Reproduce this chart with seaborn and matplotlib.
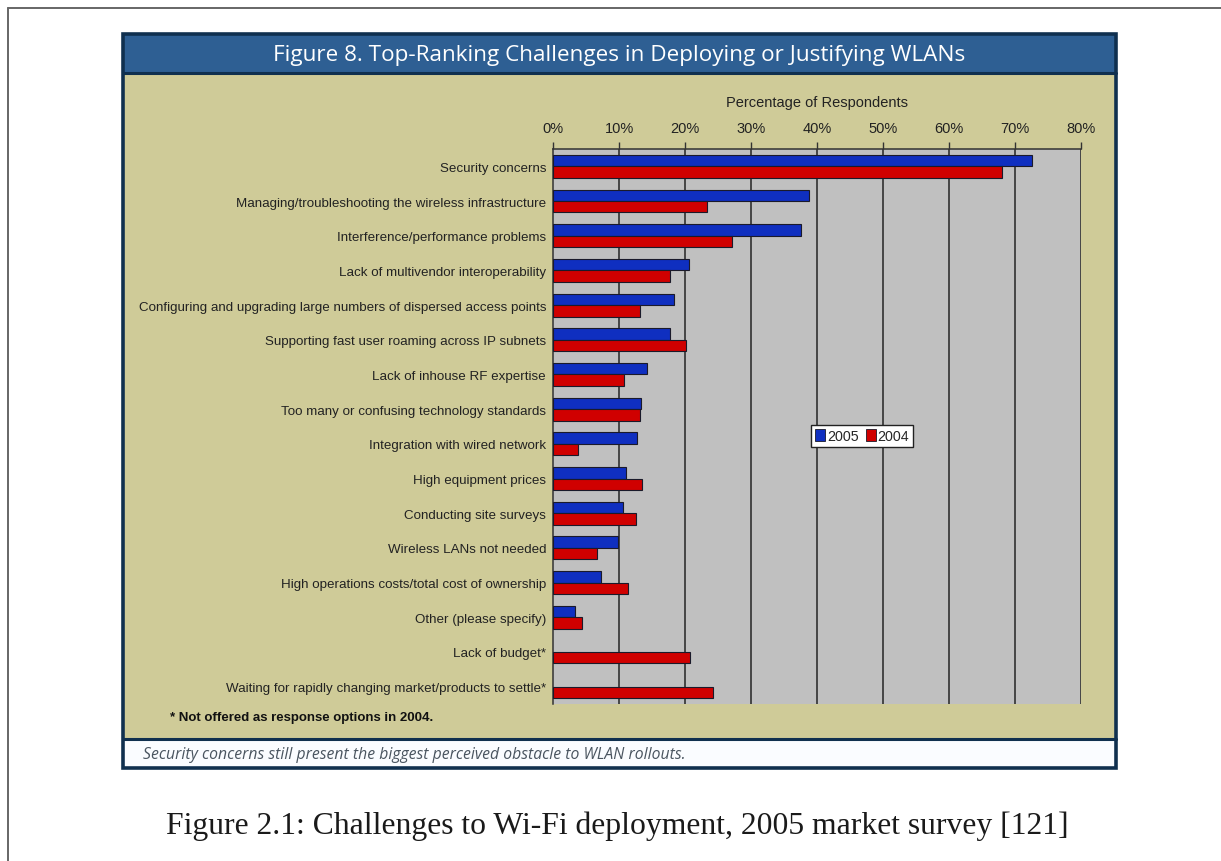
import numpy as np
import pandas as pd
import matplotlib
matplotlib.use("Agg")
import matplotlib.pyplot as plt
from matplotlib.patches import Rectangle, Patch
from matplotlib.lines import Line2D
import seaborn as sns

# ---- data -------------------------------------------------------------
challenges = [
    "Security concerns",
    "Managing/troubleshooting the wireless infrastructure",
    "Interference/performance problems",
    "Lack of multivendor interoperability",
    "Configuring and upgrading large numbers of dispersed access points",
    "Supporting fast user roaming across IP subnets",
    "Lack of inhouse RF expertise",
    "Too many or confusing technology standards",
    "Integration with wired network",
    "High equipment prices",
    "Conducting site surveys",
    "Wireless LANs not needed",
    "High operations costs/total cost of ownership",
    "Other (please specify)",
    "Lack of budget*",
    "Waiting for rapidly changing market/products to settle*",
]
pct_2005 = [72.6, 38.8, 37.5, 20.6, 18.4, 17.8, 14.3, 13.4, 12.7, 11.1, 10.6, 9.8, 7.2, 3.4,
            np.nan, np.nan]
pct_2004 = [68.0, 23.4, 27.1, 17.8, 13.2, 20.2, 10.8, 13.2, 3.8, 13.5, 12.5, 6.6, 11.3, 4.4,
            20.8, 24.3]
years = ["2005", "2004"]
x_ticks = [0, 10, 20, 30, 40, 50, 60, 70, 80]

title = "Figure 8. Top-Ranking Challenges in Deploying or Justifying WLANs"
axis_title = "Percentage of Respondents"
footnote = "* Not offered as response options in 2004."
takeaway = "Security concerns still present the biggest perceived obstacle to WLAN rollouts."
caption = "Figure 2.1: Challenges to Wi-Fi deployment, 2005 market survey [121]"

df = pd.DataFrame({
    "challenge": challenges * 2,
    "year": ["2005"] * len(challenges) + ["2004"] * len(challenges),
    "pct": pct_2005 + pct_2004,
})

# ---- style ------------------------------------------------------------
sns.set_style("white")
plt.rcParams["font.family"] = ["Liberation Sans", "DejaVu Sans"]

BLUE = "#0f2fc0"
RED = "#d00000"
TAN = "#cfcb98"
PLOT_GRAY = "#c0c0c0"
HEAD_BLUE = "#2e5f93"
NAVY = "#10304f"

W, H = 1221, 862
fig = plt.figure(figsize=(W / 100, H / 100), dpi=100)
fig.patch.set_facecolor("white")

# background layer in pixel coordinates
bg = fig.add_axes([0, 0, 1, 1], zorder=0)
bg.set_xlim(0, W)
bg.set_ylim(H, 0)
bg.axis("off")

# page frame
bg.add_line(Line2D([8, W], [9, 9], color="#666666", lw=1.4))
bg.add_line(Line2D([8, 8], [9, H], color="#666666", lw=1.4))

# exhibit box
bg.add_patch(Rectangle((123, 35), 993, 39, facecolor=HEAD_BLUE, edgecolor="none"))
bg.add_patch(Rectangle((123, 74), 993, 666, facecolor=TAN, edgecolor="none"))
bg.add_patch(Rectangle((123, 740), 993, 29, facecolor="#fafcff", edgecolor="none"))
bg.add_line(Line2D([123, 1116], [74, 74], color=NAVY, lw=2.2))
bg.add_line(Line2D([123, 1116], [740, 740], color=NAVY, lw=2.2))
bg.add_patch(Rectangle((123, 35), 993, 734, facecolor="none", edgecolor=NAVY, lw=2.6))

bg.text(619.5, 55, title, color="white", fontsize=16.2, ha="center", va="center",
        family=["Open Sans", "DejaVu Sans"])
bg.text(170, 718, footnote, color="#111111", fontsize=9.5, fontweight="bold",
        ha="left", va="center", family=["Liberation Sans", "DejaVu Sans"])
bg.text(143, 755, takeaway, color="#4a5560", fontsize=11.3, style="italic",
        ha="left", va="center", family=["Open Sans", "DejaVu Sans"])
bg.text(617, 826, caption, color="#1a1a1a", fontsize=22.8, ha="center", va="center",
        family=["Liberation Serif", "DejaVu Serif"])

# ---- bar chart ----------------------------------------------------------
left, right, top, bottom = 553, 1081, 150, 705
ax = fig.add_axes([left / W, 1 - bottom / H, (right - left) / W, (bottom - top) / H], zorder=1)
ax.set_facecolor(PLOT_GRAY)

sns.barplot(data=df, x="pct", y="challenge", hue="year", hue_order=years,
            palette=[BLUE, RED], saturation=1, orient="h", width=0.66,
            edgecolor="#1a1a2a", linewidth=0.8, ax=ax, legend=False, zorder=3)

ax.set_xlim(0, 80)
ax.set_ylim(len(challenges) - 0.5, -0.5)
ax.xaxis.tick_top()
ax.xaxis.set_label_position("top")
ax.set_xticks(x_ticks)
ax.set_xticklabels([f"{v}%" for v in x_ticks], fontsize=10.5, color="#222222")
ax.set_xlabel(axis_title, fontsize=10.5, color="#222222", labelpad=11)
ax.set_ylabel("")
ax.tick_params(axis="x", direction="out", length=5, width=1, color="#333333", pad=5, top=True,
               bottom=False)

ax.set_yticks(np.arange(len(challenges)))
ax.set_yticklabels(challenges, fontsize=9.6, color="#222222")
ax.tick_params(axis="y", which="major", length=0, pad=5)
ax.set_yticks(np.arange(-0.5, len(challenges)), minor=True)
ax.tick_params(axis="y", which="minor", direction="out", length=4, width=1, color="#333333")

for v in x_ticks[1:]:
    ax.axvline(v, color="#3c3c3c", lw=1.3, zorder=1)

for side in ["bottom", "right"]:
    ax.spines[side].set_visible(False)
for side in ["top", "left"]:
    ax.spines[side].set_visible(True)
    ax.spines[side].set_color("#333333")
    ax.spines[side].set_linewidth(1.1)

handles = [Patch(facecolor=BLUE, edgecolor="#1a1a2a", lw=0.6, label="2005"),
           Patch(facecolor=RED, edgecolor="#1a1a2a", lw=0.6, label="2004")]
leg = ax.legend(handles=handles, ncol=2, loc="center",
                bbox_to_anchor=(862 / W, 1 - 437 / H), bbox_transform=fig.transFigure,
                fontsize=10.3, handlelength=0.7, handleheight=0.9, handletextpad=0.15,
                columnspacing=0.5, borderpad=0.25, fancybox=False, framealpha=1,
                edgecolor="#222222")
leg.get_frame().set_linewidth(1.0)
leg.set_zorder(5)

fig.savefig("out.png", dpi=100, facecolor="white")
